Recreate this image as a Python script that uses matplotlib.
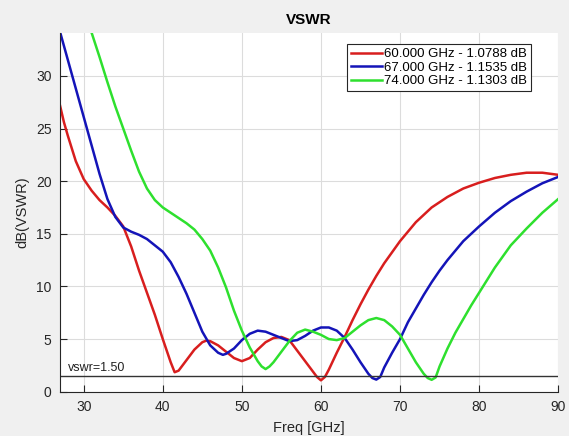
import matplotlib
matplotlib.use("Agg")
import matplotlib.pyplot as plt

plt.rcParams['font.family'] = ['Liberation Sans', 'DejaVu Sans']

# ---- data ----
red_f = [27, 27.5, 28, 29, 30, 31, 32, 33, 34, 35, 36, 37, 38, 39, 40, 41, 41.5, 42, 43, 44, 45,
         45.5, 46, 47, 48, 49, 50, 51, 52, 53, 54, 55, 56, 57, 58, 59, 59.5, 60, 60.5, 61, 62, 63,
         64, 65, 66, 67, 68, 70, 72, 74, 76, 78, 80, 82, 84, 86, 88, 90]
red_v = [27.2, 25.6, 24.3, 21.9, 20.2, 19.1, 18.2, 17.5, 16.7, 15.7, 13.8, 11.5, 9.4, 7.3, 5.0,
         2.8, 1.85, 2.0, 3.0, 4.0, 4.7, 4.85, 4.8, 4.4, 3.8, 3.2, 2.9, 3.2, 4.0, 4.7, 5.1, 5.2, 4.9,
         3.9, 2.9, 1.9, 1.4, 1.08, 1.4, 2.1, 3.7, 5.2, 6.8, 8.3, 9.7, 11.0, 12.2, 14.3, 16.1, 17.5,
         18.5, 19.3, 19.85, 20.3, 20.6, 20.8, 20.8, 20.6]

blue_f = [27, 28, 29, 30, 31, 32, 33, 34, 35, 36, 37, 38, 39, 40, 41, 42, 43, 44, 45, 46, 47,
          47.6, 48, 49, 50, 51, 52, 53, 54, 55, 56, 57, 58, 59, 60, 61, 62, 63, 64, 65, 66, 66.5,
          67, 67.5, 68, 69, 70, 71, 72, 73, 74, 75, 76, 78, 80, 82, 84, 86, 88, 90]
blue_v = [34.2, 31.5, 28.8, 26.1, 23.4, 20.7, 18.3, 16.6, 15.6, 15.2, 14.9, 14.5, 13.9, 13.3,
          12.3, 10.9, 9.3, 7.5, 5.7, 4.4, 3.7, 3.5, 3.6, 4.1, 4.9, 5.5, 5.8, 5.7, 5.4, 5.1, 4.8,
          4.9, 5.3, 5.8, 6.1, 6.1, 5.8, 5.1, 4.0, 2.8, 1.7, 1.3, 1.15, 1.4, 2.3, 3.7, 5.0, 6.6, 7.9,
          9.2, 10.4, 11.5, 12.5, 14.3, 15.7, 17.0, 18.1, 19.0, 19.8, 20.4]

green_f = [31, 32, 33, 34, 35, 36, 37, 38, 39, 40, 41, 42, 43, 44, 45, 46, 47, 48, 49, 50, 51,
           52, 52.5, 53, 53.5, 54, 55, 56, 57, 58, 59, 60, 61, 62, 63, 64, 65, 66, 67, 68, 69, 70,
           71, 72, 73, 73.5, 74, 74.5, 75, 76, 77, 78, 79, 80, 82, 84, 86, 88, 90]
green_v = [34.1, 31.8, 29.4, 27.1, 25.0, 22.9, 20.9, 19.3, 18.2, 17.5, 17.0, 16.5, 16.0, 15.4,
           14.5, 13.4, 11.8, 9.9, 7.7, 5.8, 4.2, 2.9, 2.4, 2.15, 2.4, 2.8, 3.8, 4.8, 5.6, 5.9,
           5.7, 5.4, 5.0, 4.9, 5.1, 5.7, 6.3, 6.8, 7.0, 6.8, 6.2, 5.4, 4.1, 2.8, 1.7, 1.3, 1.13,
           1.35, 2.4, 4.1, 5.6, 6.9, 8.2, 9.4, 11.8, 13.9, 15.5, 17.0, 18.3]

labels = ["60.000 GHz - 1.0788 dB", "67.000 GHz - 1.1535 dB", "74.000 GHz - 1.1303 dB"]
colors = ["#d81e1e", "#1414b8", "#2ee02e"]
vswr_level = 1.5
vswr_text = "vswr=1.50"
xticks = [30, 40, 50, 60, 70, 80, 90]
yticks = [0, 5, 10, 15, 20, 25, 30]

fig = plt.figure(figsize=(5.69, 4.36), dpi=100, facecolor="#f0f0f0")
ax = fig.add_axes([0.1054, 0.1016, 0.8756, 0.8234])
ax.set_facecolor("white")

ax.grid(True, color="#dcdcdc", linewidth=0.8)
ax.set_axisbelow(True)

for f, v, c, lab in zip([red_f, blue_f, green_f], [red_v, blue_v, green_v], colors, labels):
    ax.plot(f, v, color=c, linewidth=1.8, label=lab, solid_joinstyle="round")

ax.axhline(vswr_level, color="#333333", linewidth=1.0)
ax.text(28.0, vswr_level + 0.2, vswr_text, fontsize=9, color="#222222", va="bottom", ha="left")

ax.set_xlim(27, 90)
ax.set_ylim(0, 34.1)
ax.set_xticks(xticks)
ax.set_yticks(yticks)
ax.tick_params(direction="in", length=5, width=0.8, colors="#262626", labelsize=10, pad=6)
for s in ["top", "right"]:
    ax.spines[s].set_visible(False)
for s in ["left", "bottom"]:
    ax.spines[s].set_color("#262626")
    ax.spines[s].set_linewidth(0.8)

ax.set_title("VSWR", fontsize=11, fontweight="bold", pad=6)
ax.set_xlabel("Freq [GHz]", fontsize=10.5, color="#262626", labelpad=5)
ax.set_ylabel("dB(VSWR)", fontsize=10.5, color="#262626", labelpad=5)

leg = ax.legend(loc="upper right", bbox_to_anchor=(0.946, 0.968), fontsize=9.5,
                handlelength=2.4, handletextpad=0.15, borderpad=0.3, labelspacing=0.1,
                fancybox=False, framealpha=1, edgecolor="#262626", borderaxespad=0)
leg.get_frame().set_linewidth(0.8)

fig.savefig("out.png", dpi=100, facecolor=fig.get_facecolor())
